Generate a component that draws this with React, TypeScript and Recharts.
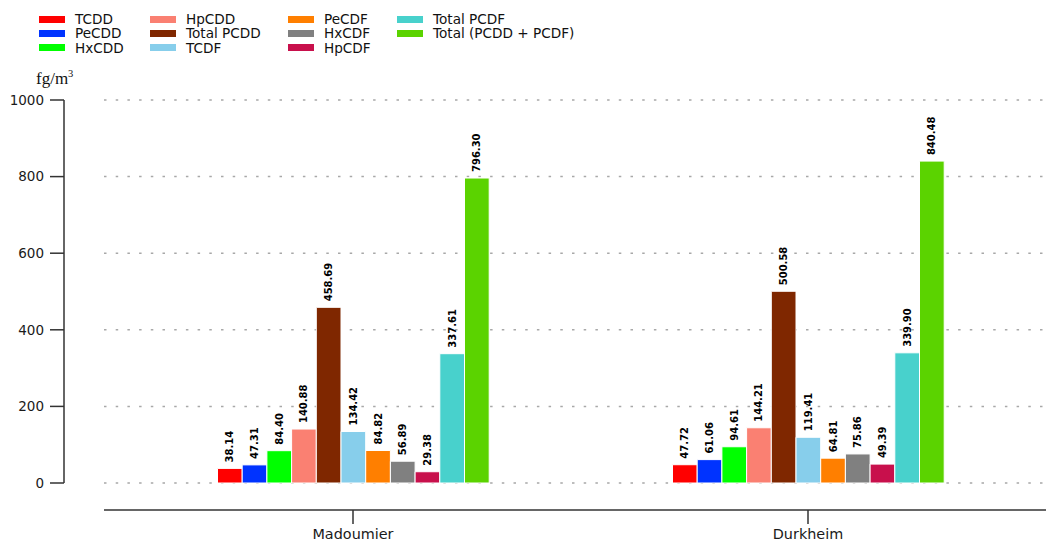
import { Bar, BarChart, CartesianGrid, LabelList, XAxis, YAxis } from "recharts";

const categories = ["Madoumier", "Durkheim"];
const seriesNames = [
  "TCDD",
  "PeCDD",
  "HxCDD",
  "HpCDD",
  "Total PCDD",
  "TCDF",
  "PeCDF",
  "HxCDF",
  "HpCDF",
  "Total PCDF",
  "Total (PCDD + PCDF)",
];
const madoumierValues = [38.14, 47.31, 84.4, 140.88, 458.69, 134.42, 84.82, 56.89, 29.38, 337.61, 796.3];
const durkheimValues = [47.72, 61.06, 94.61, 144.21, 500.58, 119.41, 64.81, 75.86, 49.39, 339.9, 840.48];
const yTicks = [0, 200, 400, 600, 800, 1000];

const seriesColors = [
  "#ff0000",
  "#0033ff",
  "#00ff00",
  "#fa8072",
  "#7f2700",
  "#87ceeb",
  "#ff7f00",
  "#808080",
  "#c8104c",
  "#48d1cc",
  "#5bd300",
];

const valuesByCategory = [madoumierValues, durkheimValues];

const data = categories.map((name, ci) => {
  const row: Record<string, string | number> = { name };
  seriesNames.forEach((_, si) => {
    row[`s${si}`] = valuesByCategory[ci][si];
  });
  return row;
});

const FONT = "'DejaVu Sans', sans-serif";
const AXIS = "#333333";
const legendCols = [39, 150, 288, 397];

const ValueLabel = (props: any) => {
  const { x, y, width, value } = props;
  const cx = Number(x) + Number(width) / 2;
  const ty = Number(y) - 6;
  return (
    <text
      x={cx}
      y={ty}
      transform={`rotate(-90 ${cx} ${ty})`}
      textAnchor="start"
      dominantBaseline="central"
      fontSize={10}
      fontWeight="bold"
      fontFamily={FONT}
      fill="#000"
    >
      {Number(value).toFixed(2)}
    </text>
  );
};

function ChartLegend() {
  return (
    <>
      {seriesNames.map((name, i) => (
        <div
          key={name}
          style={{
            position: "absolute",
            left: legendCols[Math.floor(i / 3)],
            top: 12 + (i % 3) * 14.3,
            height: 14,
            display: "flex",
            alignItems: "center",
            fontFamily: FONT,
            fontSize: 13.6,
            color: "#111",
            whiteSpace: "nowrap",
          }}
        >
          <span style={{ width: 26, height: 7, background: seriesColors[i], marginRight: 10, flexShrink: 0 }} />
          {name}
        </div>
      ))}
    </>
  );
}

export default function App() {
  return (
    <div style={{ position: "absolute", left: 0, top: 0, width: 1047, height: 545, background: "#fff" }}>
      <ChartLegend />
      <div
        style={{
          position: "absolute",
          left: 36,
          top: 66,
          fontFamily: "'Liberation Serif', serif",
          fontSize: 17,
          lineHeight: "16px",
          color: "#111",
        }}
      >
        fg/m<sup style={{ fontSize: 10.5 }}>3</sup>
      </div>
      <div style={{ position: "absolute", left: 0, top: 0 }}>
        <BarChart
          width={1047}
          height={545}
          data={data}
          margin={{ top: 100, right: 1, left: 0, bottom: 0 }}
          barSize={24.7}
          barGap={0}
        >
          <CartesianGrid
            xAxisId="main"
            yAxisId="main"
            vertical={false}
            stroke="#a8a8a8"
            strokeWidth={1.5}
            strokeDasharray="2.5 9.2"
          />
          <XAxis
            xAxisId="gap"
            dataKey="name"
            height={27}
            tick={false}
            axisLine={false}
            tickLine={false}
            padding={{ left: 21.5, right: 10.5 }}
          />
          <XAxis
            xAxisId="main"
            dataKey="name"
            height={35}
            tickSize={14}
            tickMargin={5}
            padding={{ left: 21.5, right: 10.5 }}
            axisLine={{ stroke: AXIS, strokeWidth: 1.5 }}
            tickLine={{ stroke: AXIS, strokeWidth: 1.5 }}
            tick={{ fontSize: 14.4, fontFamily: FONT, fill: "#1a1a1a" }}
          />
          <YAxis
            yAxisId="gap"
            width={40}
            domain={[0, 1000]}
            tick={false}
            axisLine={false}
            tickLine={false}
          />
          <YAxis
            yAxisId="main"
            width={64}
            domain={[0, 1000]}
            ticks={yTicks}
            tickSize={14}
            tickMargin={6}
            axisLine={{ stroke: AXIS, strokeWidth: 1.5 }}
            tickLine={{ stroke: AXIS, strokeWidth: 1.5 }}
            tick={{ fontSize: 13.5, fontFamily: FONT, fill: "#1a1a1a" }}
          />
          {seriesNames.map((name, si) => (
            <Bar
              key={name}
              xAxisId="main"
              yAxisId="main"
              dataKey={`s${si}`}
              name={name}
              fill={seriesColors[si]}
              stroke="#ffffff"
              strokeWidth={1}
              isAnimationActive={false}
            >
              <LabelList dataKey={`s${si}`} content={ValueLabel} />
            </Bar>
          ))}
        </BarChart>
      </div>
    </div>
  );
}
